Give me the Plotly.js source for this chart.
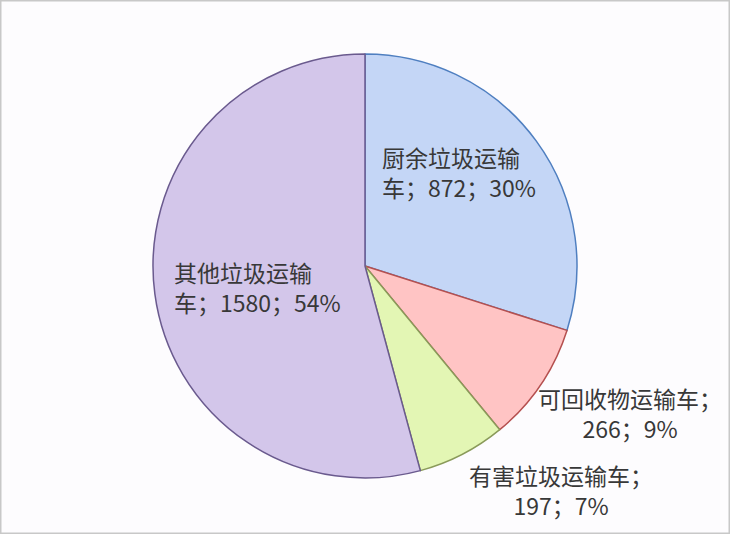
<!DOCTYPE html>
<html>
<head>
<meta charset="utf-8">
<script src="https://cdn.plot.ly/plotly-3.0.1.min.js"></script>
<style>html,body{margin:0;padding:0;background:#fdfcfe;}#chart{width:730px;height:534px;}</style>
</head>
<body>
<div id="chart"></div>
<script>
var categories = ["厨余垃圾运输车", "可回收物运输车", "有害垃圾运输车", "其他垃圾运输车"];
var values = [872, 266, 197, 1580];
var percents = ["30%", "9%", "7%", "54%"];
var sliceColors = ["#c4d6f6", "#ffc4c4", "#e3f6b4", "#d3c6ea"];
var borderColors = ["#4f7fc0", "#b5504f", "#8a9a5a", "#6a5a8e"];

function lbl(i, split) {
  var name = categories[i];
  if (split === "tail") return name.slice(0, 6) + "<br>" + name.slice(6) + "；" + values[i] + "；" + percents[i];
  return name + "；<br>" + values[i] + "；" + percents[i];
}

var font = {family: "Noto Sans CJK SC", size: 23, color: "#383838"};
var data = [{
  type: "pie",
  labels: categories,
  values: values,
  sort: false,
  direction: "clockwise",
  rotation: 0,
  textinfo: "none",
  hoverinfo: "none",
  marker: {colors: sliceColors, line: {color: borderColors, width: 1.5}},
  domain: {x: [0.2096, 0.7904], y: [0.1049, 0.8989]},
  showlegend: false
}];

var layout = {
  width: 730, height: 534,
  margin: {l: 0, r: 0, t: 0, b: 0},
  paper_bgcolor: "#fdfcfe",
  shapes: [{type: "rect", xref: "paper", yref: "paper", x0: 0, x1: 1, y0: 0, y1: 1,
            line: {color: "#c8c8c8", width: 3}}],
  annotations: [
    {xref: "paper", yref: "paper", x: 380/730, y: 1 - 172/534, xanchor: "left", yanchor: "middle",
     text: lbl(0, "tail"), showarrow: false, font: font, align: "left"},
    {xref: "paper", yref: "paper", x: 172/730, y: 1 - 287/534, xanchor: "left", yanchor: "middle",
     text: lbl(3, "tail"), showarrow: false, font: font, align: "left"},
    {xref: "paper", yref: "paper", x: 630/730, y: 1 - 413/534, xanchor: "center", yanchor: "middle",
     text: lbl(1), showarrow: false, font: font, align: "center"},
    {xref: "paper", yref: "paper", x: 561/730, y: 1 - 490/534, xanchor: "center", yanchor: "middle",
     text: lbl(2), showarrow: false, font: font, align: "center"}
  ]
};

Plotly.newPlot("chart", data, layout, {staticPlot: true});
</script>
</body>
</html>
